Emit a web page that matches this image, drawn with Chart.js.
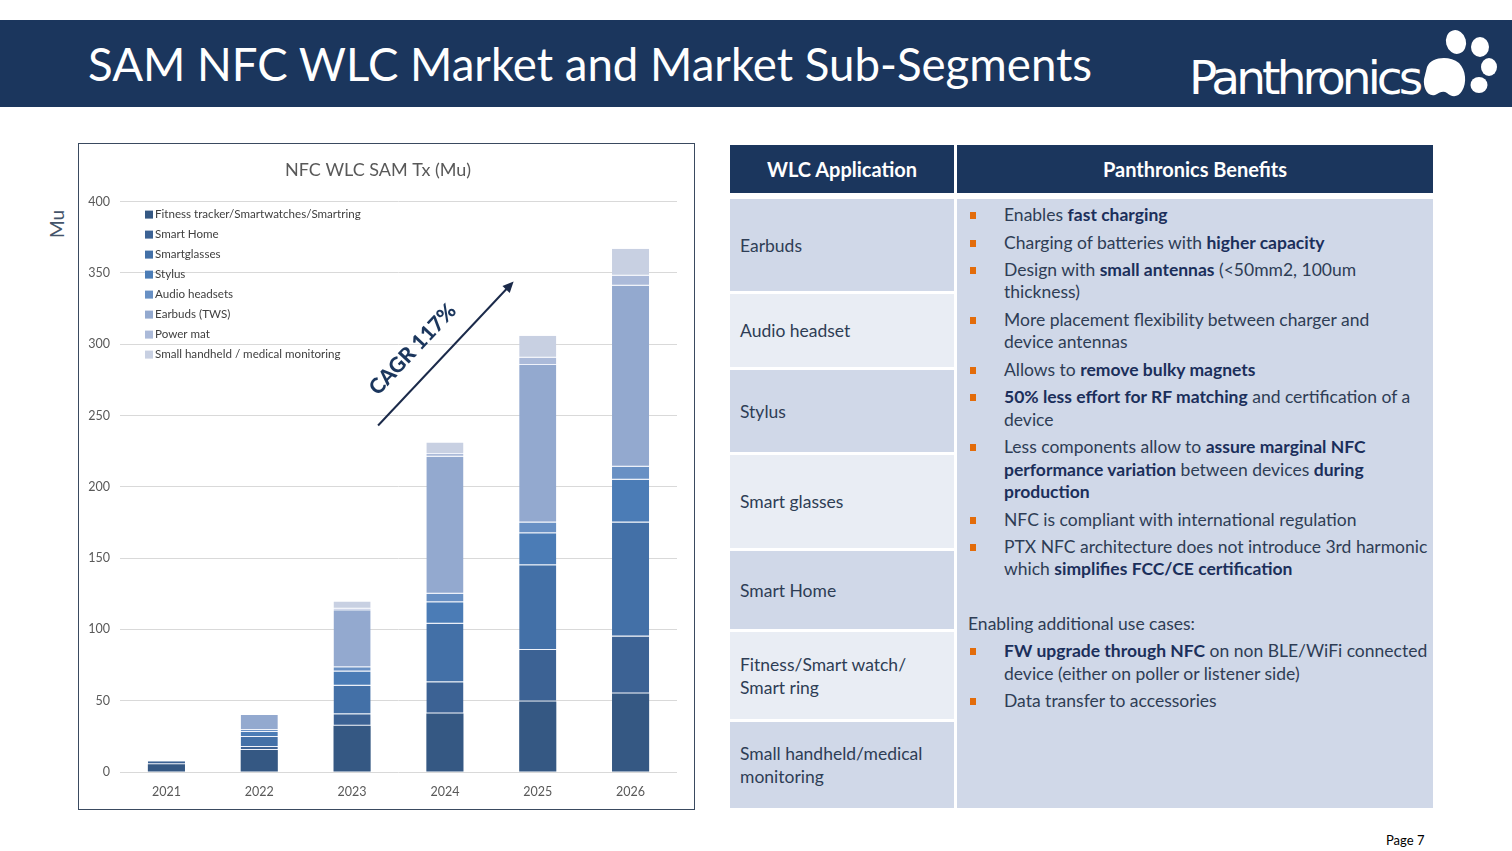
<!DOCTYPE html>
<html>
<head>
<meta charset="utf-8">
<script src="https://cdn.jsdelivr.net/npm/chart.js@4.4.0/dist/chart.umd.min.js"></script>
<style>
body { margin:0; width:1512px; height:851px; background:#fff; position:relative; overflow:hidden; font-family:Lato, "Open Sans", sans-serif; }
.band { position:absolute; left:0; top:20px; width:1512px; height:87px; background:#1B365D; }
.title { position:absolute; left:88px; top:36px; color:#fff; font-size:45.6px; line-height:56px; white-space:nowrap; }
.logo { position:absolute; left:1189px; top:49px; color:#fff; font-family:"DejaVu Sans", sans-serif; font-size:47px; line-height:58px; letter-spacing:-3.9px; }
.paw { position:absolute; left:1423px; top:27px; }
.chartbox { position:absolute; left:78px; top:143px; width:615px; height:665px; border:1px solid #3A4A60; }
.mu { position:absolute; left:44px; top:209px; width:28px; height:30px; color:#44546A; font-size:19px; transform:rotate(-90deg); transform-origin:center; text-align:center; line-height:28px; }
.th { position:absolute; top:145px; height:48px; background:#1B365D; color:#fff; font-weight:bold; font-size:20px; display:flex; align-items:center; justify-content:center; }
.lc { position:absolute; left:730px; width:214px; padding-left:10px; display:flex; align-items:center; color:#2E3D55; font-size:17.5px; line-height:23px; }
.dark { background:#D0D8E8; }
.light { background:#E9EDF4; }
.rc { position:absolute; left:957px; top:199px; width:476px; height:609px; background:#D0D8E8; color:#2E3D55; font-size:17.5px; line-height:22.4px; }
.rc ul { list-style:none; margin:0; padding:5px 4px 0 47px; }
.rc li { position:relative; margin-bottom:5.1px; }
.rc li::before { content:""; position:absolute; left:-34px; top:8px; width:6px; height:7px; background:#E36C0A; }
.rc b { color:#1B2F5B; }
.rc p { margin:32px 0 5px 11px; }
.page { position:absolute; left:1386px; top:832px; font-size:13px; color:#000; }
</style>
</head>
<body>
<div class="band"></div>
<div class="title">SAM NFC WLC Market and Market Sub-Segments</div>
<div class="logo">Panthronics</div>
<svg class="paw" width="76" height="72" viewBox="0 0 76 72">
  <path d="M4 40 C8 30 26 28 36 36 C43 43 44 56 39 64 C35 71 28 70 24 66 C20 63 16 66 12 68 C4 70 0 60 1 52 Z" fill="#fff"/>
  <ellipse cx="33" cy="15" rx="10" ry="12" fill="#fff" transform="rotate(-15 33 15)"/>
  <ellipse cx="57" cy="20" rx="9" ry="10" fill="#fff"/>
  <ellipse cx="66" cy="40" rx="8" ry="9" fill="#fff"/>
  <ellipse cx="56" cy="58" rx="8.5" ry="8" fill="#fff"/>
</svg>

<div class="mu">Mu</div>
<div class="chartbox"><canvas id="samChart" width="615" height="665"></canvas></div>

<div class="th" style="left:730px;width:224px;">WLC Application</div>
<div class="th" style="left:957px;width:476px;">Panthronics Benefits</div>

<div class="lc dark" style="top:199px;height:92px;">Earbuds</div>
<div class="lc light" style="top:294px;height:73px;">Audio headset</div>
<div class="lc dark" style="top:370px;height:82px;">Stylus</div>
<div class="lc light" style="top:455px;height:93px;">Smart glasses</div>
<div class="lc dark" style="top:551px;height:78px;">Smart Home</div>
<div class="lc light" style="top:632px;height:87px;">Fitness/Smart watch/<br>Smart ring</div>
<div class="lc dark" style="top:722px;height:86px;">Small handheld/medical<br>monitoring</div>

<div class="rc">
  <ul>
    <li>Enables <b>fast charging</b></li>
    <li>Charging of batteries with <b>higher capacity</b></li>
    <li>Design with <b>small antennas</b> (&lt;50mm2, 100um<br>thickness)</li>
    <li>More placement flexibility between charger and<br>device antennas</li>
    <li>Allows to <b>remove bulky magnets</b></li>
    <li><b>50% less effort for RF matching</b> and certification of a<br>device</li>
    <li>Less components allow to <b>assure marginal NFC<br>performance variation</b> between devices <b>during<br>production</b></li>
    <li>NFC is compliant with international regulation</li>
    <li>PTX NFC architecture does not introduce 3rd harmonic<br>which <b>simplifies FCC/CE certification</b></li>
  </ul>
  <p>Enabling additional use cases:</p>
  <ul style="padding-top:0">
    <li><b>FW upgrade through NFC</b> on non BLE/WiFi connected<br>device (either on poller or listener side)</li>
    <li>Data transfer to accessories</li>
  </ul>
</div>

<div class="page">Page 7</div>

<script>
// values (Mu)
const years = ['2021', '2022', '2023', '2024', '2025', '2026'];
const fitness = [5.5, 15.5, 32.5, 41, 49.5, 55];
const smartHome = [2, 2, 8, 22, 36, 40];
const smartglasses = [0, 7, 20, 41, 59.5, 80];
const stylus = [0, 3.5, 10, 15, 22.5, 30];
const audioHeadsets = [0, 1.5, 3, 6, 7.5, 9];
const earbuds = [0, 10.5, 40, 96, 110.5, 127];
const powerMat = [0, 0, 1, 2, 5, 7];
const smallHandheld = [0, 0, 5, 8, 15.5, 19];

const seriesNames = ['Fitness tracker/Smartwatches/Smartring', 'Smart Home', 'Smartglasses', 'Stylus',
    'Audio headsets', 'Earbuds (TWS)', 'Power mat', 'Small handheld / medical monitoring'];
const seriesData = [fitness, smartHome, smartglasses, stylus, audioHeadsets, earbuds, powerMat, smallHandheld];
const seriesColors = ['#355883', '#3C6294', '#4370A7', '#4B7CB6', '#6890C4', '#93A9CF', '#ABBAD9', '#C8D0E2'];

Chart.defaults.font.family = 'Lato';

// legend stacked vertically in the upper left of the plot
const sideLegend = {
    id: 'sideLegend',
    afterDraw(chart) {
        const ctx = chart.ctx;
        const area = chart.chartArea;
        ctx.save();
        ctx.font = '11.6px Lato';
        ctx.textBaseline = 'middle';
        chart.data.datasets.forEach((ds, i) => {
            const x = area.left + 25;
            const y = area.top + 13 + i * 20;
            ctx.fillStyle = ds.backgroundColor;
            ctx.fillRect(x, y - 4, 8, 8);
            ctx.fillStyle = '#404040';
            ctx.fillText(ds.label, x + 10, y);
        });
        ctx.restore();
    }
};

// CAGR arrow annotation
const cagrArrow = {
    id: 'cagrArrow',
    afterDatasetsDraw(chart) {
        const xs = chart.scales.x, ys = chart.scales.y;
        const x0 = xs.getPixelForValue(2.28), y0 = ys.getPixelForValue(243);
        const x1 = xs.getPixelForValue(3.74), y1 = ys.getPixelForValue(344);
        const ang = Math.atan2(y1 - y0, x1 - x0);
        const ctx = chart.ctx;
        ctx.save();
        ctx.strokeStyle = '#1B2A4A';
        ctx.fillStyle = '#1B2A4A';
        ctx.lineWidth = 2;
        ctx.beginPath();
        ctx.moveTo(x0, y0);
        ctx.lineTo(x1 - 8 * Math.cos(ang), y1 - 8 * Math.sin(ang));
        ctx.stroke();
        ctx.beginPath();
        ctx.moveTo(x1, y1);
        ctx.lineTo(x1 - 11 * Math.cos(ang) + 5 * Math.sin(ang), y1 - 11 * Math.sin(ang) - 5 * Math.cos(ang));
        ctx.lineTo(x1 - 11 * Math.cos(ang) - 5 * Math.sin(ang), y1 - 11 * Math.sin(ang) + 5 * Math.cos(ang));
        ctx.closePath();
        ctx.fill();
        // label
        const mx = (x0 + x1) / 2 - 33, my = (y0 + y1) / 2 - 4;
        ctx.translate(mx, my);
        ctx.rotate(ang);
        ctx.font = '900 21px Lato';
        ctx.fillStyle = '#1B365D';
        ctx.textAlign = 'center';
        ctx.textBaseline = 'middle';
        ctx.fillText('CAGR 117%', 0, 0);
        ctx.restore();
    }
};

const datasets = seriesData.map((d, i) => ({
    label: seriesNames[i],
    data: d,
    backgroundColor: seriesColors[i],
    borderColor: 'rgba(225,232,245,0.55)',
    borderWidth: ctx => (ctx.raw > 0 && i > 0) ? { top: 0, bottom: 1, left: 0, right: 0 } : 0,
    borderSkipped: false,
    barPercentage: 0.4,
    categoryPercentage: 1.0
}));

new Chart(document.getElementById('samChart'), {
    type: 'bar',
    data: { labels: years, datasets: datasets },
    options: {
        responsive: false,
        animation: false,
        layout: { padding: { left: 0, right: 17, top: 0, bottom: 0 } },
        plugins: {
            legend: { display: false },
            tooltip: { enabled: false },
            title: {
                display: true,
                text: 'NFC WLC SAM Tx (Mu)',
                color: '#595959',
                font: { size: 18, weight: 'normal' },
                padding: { top: 15, bottom: 21 }
            }
        },
        scales: {
            x: {
                stacked: true,
                grid: { display: false },
                border: { display: false },
                ticks: { color: '#595959', font: { size: 12.5 }, padding: 4 },
                afterFit: s => { s.height = 37; }
            },
            y: {
                stacked: true,
                min: 0,
                max: 400,
                grid: { color: '#D9D9D9', drawTicks: false },
                border: { display: false },
                ticks: { stepSize: 50, color: '#595959', font: { size: 12.5 }, padding: 10 },
                afterFit: s => { s.width = 41; }
            }
        }
    },
    plugins: [sideLegend, cagrArrow]
});
</script>
</body>
</html>
